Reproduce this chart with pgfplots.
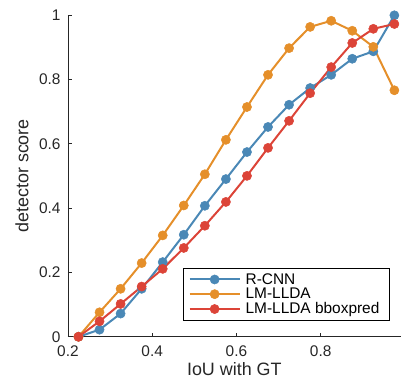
\documentclass[border=0pt]{standalone}
\usepackage{fontspec}
\setmainfont{Liberation Sans}
\usepackage{pgfplots}
\pgfplotsset{compat=1.18}
\definecolor{cblue}{RGB}{74,136,182}
\definecolor{corange}{RGB}{229,143,42}
\definecolor{cred}{RGB}{220,68,56}
\definecolor{axgray}{RGB}{38,38,38}
\begin{document}
\begin{tikzpicture}
\begin{axis}[
  scale only axis,
  width=333bp, height=322bp,
  xmin=0.2, xmax=0.99, ymin=0, ymax=1,
  axis x line*=bottom, axis y line*=left,
  axis line style={axgray, line width=0.6pt},
  tick align=inside,
  major tick length=4bp,
  tick style={axgray, line width=0.6pt},
  xtick={0.2,0.4,0.6,0.8},
  ytick={0,0.2,0.4,0.6,0.8,1},
  xticklabels={0.2,0.4,0.6,0.8},
  yticklabels={0,0.2,0.4,0.6,0.8,1},
  ticklabel style={font=\fontsize{15.5}{18}\selectfont, text=axgray, inner sep=1bp},
  xticklabel style={yshift=-7.7bp},
  yticklabel style={xshift=-6.2bp},
  label style={font=\fontsize{18}{20}\selectfont, text=axgray},
  xlabel={IoU with GT},
  ylabel={detector score},
  xlabel style={yshift=-1.5bp},
  ylabel style={yshift=6bp},
  legend style={at={(0.967,0.05)}, anchor=south east, draw=black, line width=0.6pt,
    font=\fontsize{15.5}{18}\selectfont, row sep=-1.5bp, inner xsep=5bp, inner ysep=3bp,
    nodes={inner xsep=5bp}},
  legend cell align=left,
  legend image code/.code={
    \draw[#1, mark=none] (0bp,0bp) -- (50bp,0bp);
    \draw[#1, only marks] plot coordinates {(25bp,0bp)};
  },
]
\addplot[cblue, line width=2pt, mark=*, mark size=4.6bp, mark options={fill=cblue, draw=cblue, line width=0.5pt}] coordinates {
(0.225,0.000) (0.275,0.022) (0.325,0.072) (0.375,0.149) (0.425,0.232)
(0.475,0.317) (0.525,0.407) (0.575,0.490) (0.625,0.574) (0.675,0.652)
(0.725,0.721) (0.775,0.773) (0.825,0.814) (0.875,0.864) (0.925,0.887)
(0.975,0.999)};
\addlegendentry{R-CNN}
\addplot[corange, line width=2pt, mark=*, mark size=4.6bp, mark options={fill=corange, draw=corange, line width=0.5pt}] coordinates {
(0.225,0.000) (0.275,0.076) (0.325,0.149) (0.375,0.229) (0.425,0.315)
(0.475,0.408) (0.525,0.505) (0.575,0.612) (0.625,0.714) (0.675,0.814)
(0.725,0.897) (0.775,0.963) (0.825,0.982) (0.875,0.951) (0.925,0.901)
(0.975,0.766)};
\addlegendentry{LM-LLDA}
\addplot[cred, line width=2pt, mark=*, mark size=4.6bp, mark options={fill=cred, draw=cred, line width=0.5pt}] coordinates {
(0.225,0.000) (0.275,0.048) (0.325,0.102) (0.375,0.156) (0.425,0.211)
(0.475,0.276) (0.525,0.345) (0.575,0.419) (0.625,0.500) (0.675,0.587)
(0.725,0.671) (0.775,0.757) (0.825,0.838) (0.875,0.913) (0.925,0.957)
(0.975,0.972)};
\addlegendentry{LM-LLDA bboxpred}
\end{axis}
\path (current axis.south west) ++(-68bp,-46bp) coordinate (bbsw);
\path (current axis.north east) ++(0bp,15bp) coordinate (bbne);
\path (bbsw) rectangle (bbne);
\end{tikzpicture}
\end{document}
